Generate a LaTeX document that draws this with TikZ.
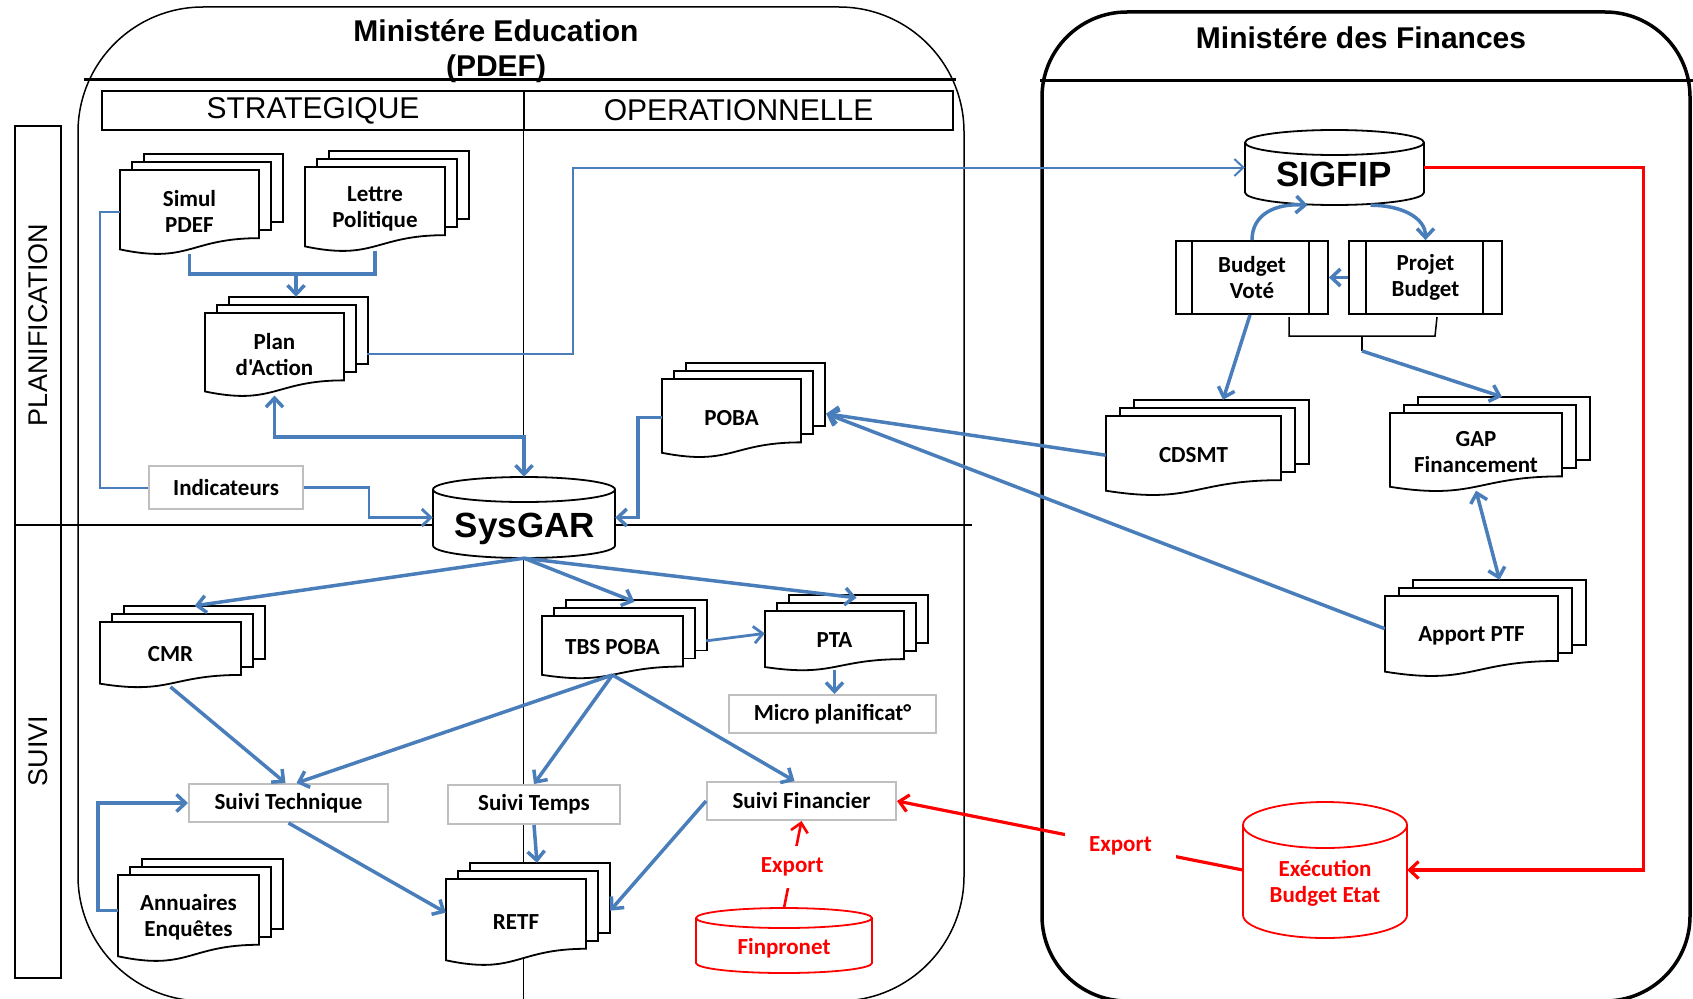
\documentclass[tikz,border=0pt]{standalone}
\usepackage{fontspec}
\setmainfont{Liberation Sans}
\newfontfamily\calfont{Carlito}
\usetikzlibrary{arrows.meta,calc}
\definecolor{ob}{HTML}{4A7EBB}
\definecolor{gb}{HTML}{BFBFBF}
\definecolor{rd}{HTML}{FF0000}

% multi-document stack: [dx]{name}{L}{T}{R}{H}{text}
\newcommand\mdoc[7][12]{%
  \pgfmathsetmacro\rbv{#4+0.802*#6}%
  \pgfmathsetmacro\lbv{#4+0.934*#6}%
  \pgfmathsetmacro\cbv{#4+1.107*#6}%
  \pgfmathsetmacro\mxv{(#3+#5)/2}%
  \draw[docline] ({#3+2*#1},{#4-16}) rectangle ({#5+2*#1},{\rbv-16});
  \draw[docline] ({#3+#1},{#4-8}) rectangle ({#5+#1},{\rbv-8});
  \draw[docline] (#3,#4) -- (#5,#4) -- (#5,\rbv) .. controls (\mxv,\rbv) and (\mxv,\cbv) .. (#3,\lbv) -- cycle;
  \node[lab,minimum width={#5-#3},minimum height={0.98*#6}] (#2) at (\mxv,{#4+0.49*#6}) {#7};
}
% cylinder: {name}{L}{T}{R}{B}{ry}{style}
\newcommand\cyl[7]{%
  \pgfmathsetmacro\rxv{(#4-#2)/2}%
  \pgfmathsetmacro\mxv{(#2+#4)/2}%
  \draw[#7,fill=white] (#2,{#3+#6}) -- (#2,{#5-#6}) arc[start angle=180,end angle=360,x radius=\rxv pt,y radius=#6pt] -- (#4,{#3+#6}) arc[start angle=0,end angle=180,x radius=\rxv pt,y radius=#6pt] -- cycle;
  \draw[#7] (#2,{#3+#6}) arc[start angle=180,end angle=360,x radius=\rxv pt,y radius=#6pt];
  \node[inner sep=0pt,minimum width={#4-#2},minimum height={#5-#3}] (#1) at (\mxv,{(#3+#5)/2}) {};
}

\begin{document}
\begin{tikzpicture}[x=1pt,y=-1pt,
  >={Straight Barb[length=9pt,width=17pt]},
  frame/.style={draw=black,line width=1.5pt},
  docline/.style={draw=black,line width=1.8pt,fill=white},
  lab/.style={font=\calfont\bfseries\fontsize{23}{26}\selectfont,align=center,inner sep=0pt},
  rlab/.style={lab,text=rd},
  gbox/.style={lab,draw=gb,line width=2pt,fill=white},
  pbox/.style={lab,draw=black,line width=1.8pt,fill=white,minimum width=152pt,minimum height=73pt},
  secbox/.style={draw=black,line width=1.5pt,fill=white,minimum height=39pt,inner sep=0pt,font=\fontsize{30}{34}\selectfont},
  title/.style={font=\bfseries\fontsize{30}{35}\selectfont,align=center},
  side/.style={font=\fontsize{27}{30}\selectfont},
  big/.style={font=\bfseries\fontsize{35}{40}\selectfont,inner sep=0pt},
  bl/.style={draw=ob,line width=3.5pt},
  bla/.style={bl,->},
  bt/.style={draw=ob,line width=2pt},
  bta/.style={bt,->},
  rl/.style={draw=rd,line width=3.2pt,->}]
\useasboundingbox (0,0) rectangle (1693,998);
\clip (0,0) rectangle (1693,998);

% ---- frames
\draw[frame,rounded corners=125pt] (78,7) rectangle (964,1001);
\draw[line width=3pt] (84,79) -- (956,79);
\draw[line width=3.5pt,rounded corners=85pt] (1042,12) rectangle (1690,1001);
\draw[line width=3pt] (1040,80) -- (1693,80);
\node[title] (metitle) at (496,51) {Ministére Education\\(PDEF)};
\node[title] (mftitle) at (1361,38) {Ministére des Finances};

% ---- swimlanes
\draw[frame] (15,126) rectangle (61,978);
\draw[frame] (15,525) -- (972,525);
\node[side,rotate=90] (planlab) at (38,325) {PLANIFICATION};
\node[side,rotate=90] (suivilab) at (38,751) {SUIVI};
\node[secbox,minimum width=422pt] (strat) at (313,110.5) {STRATEGIQUE};
\node[secbox,minimum width=429pt] (oper) at (738.5,110.5) {OPERATIONNELLE};
\draw[frame] (oper.north west) -- ++(0,910);

% ---- documents
\mdoc{simul}{120}{170}{259}{85}{Simul\\PDEF}
\mdoc{lettre}{305}{167}{445}{85}{Lettre\\Politique}
\mdoc{plan}{205}{313}{344}{84}{Plan\\d'Action}
\mdoc{poba}{662}{379}{801}{79}{POBA}
\mdoc[14]{cdsmt}{1106}{416}{1281}{80}{CDSMT}
\mdoc[14]{gap}{1390}{413}{1562}{79}{GAP\\Financement}
\mdoc[14]{apport}{1385}{596}{1558}{81}{Apport PTF}
\mdoc{tbs}{542}{616}{683}{63}{TBS POBA}
\mdoc{pta}{765}{611}{904}{60}{PTA}
\mdoc{cmr}{100}{622}{241}{66}{CMR}
\mdoc{retf}{446}{879}{586}{87}{RETF}
\mdoc{annu}{118}{875}{259}{87}{Annuaires\\Enquêtes}

% ---- databases
\cyl{sysgar}{433}{477}{615}{558}{12.5}{draw=black,line width=1.8pt}
\node[big,anchor=base] (sysgartxt) at (525,537) {SysGAR};
\cyl{sigfip}{1245}{130}{1424}{205}{12.5}{draw=black,line width=1.8pt}
\node[big] (sigfiptxt) at (1334,174) {SIGFIP};
\cyl{finpro}{696}{908}{872}{973}{10}{draw=rd,line width=1.8pt}
\node[rlab,anchor=base] (finprotxt) at (784,954) {Finpronet};
\cyl{exec}{1243}{802}{1407}{938}{23}{draw=rd,line width=1.8pt}
\node[rlab] (exectxt) at (1325,883) {Exécution\\Budget Etat};

% ---- boxes
\node[gbox,minimum width=154pt,minimum height=43pt] (indic) at (226,487.5) {Indicateurs};
\node[gbox,minimum width=199pt,minimum height=38pt] (stech) at (288.5,803) {Suivi Technique};
\node[gbox,minimum width=172pt,minimum height=39pt] (stemps) at (534,804.5) {Suivi Temps};
\node[gbox,minimum width=189pt,minimum height=38pt] (sfin) at (801.5,801) {Suivi Financier};
\node[gbox,minimum width=207pt,minimum height=38pt] (micro) at (832.5,714) {Micro planificat°};
\node[pbox] (bvote) at (1252,277.5) {Budget\\Voté};
\node[pbox,minimum width=153pt] (pbud) at (1425.5,277.5) {Projet\\Budget};
\draw[line width=1.8pt] ([xshift=17pt]bvote.north west) -- ([xshift=17pt]bvote.south west);
\draw[line width=1.8pt] ([xshift=-20pt]bvote.north east) -- ([xshift=-20pt]bvote.south east);
\draw[line width=1.8pt] ([xshift=18pt]pbud.north west) -- ([xshift=18pt]pbud.south west);
\draw[line width=1.8pt] ([xshift=-20pt]pbud.north east) -- ([xshift=-20pt]pbud.south east);
% brace under the budget boxes
\draw[line width=1.5pt] (1289,317) -- (1289,336) -- (1435,336) -- (1437,317);
\draw[line width=1.5pt] (1362,336) -- (1362,351);
\coordinate (brace) at (1362,351);

% ---- connectors: planification
\coordinate (j1) at (296,274);
\draw[bl] (simul.south) |- (j1) -| (lettre.south);
\draw[bla] (j1) -- ([xshift=21.5pt,yshift=16pt]plan.north);
\draw[bl,<->] (plan.south) -- ++(0,41.7) -| (sysgar.north);
\draw[bt] (simul.west) -- ++(-20,0) |- (indic.west);
\draw[bl,->,line width=2.8pt] (indic.east) -- ++(65,0) |- (sysgar.west);
\draw[bla] (poba.west) -- ++(-24,0) |- (sysgar.east);
\draw[bta] ([xshift=23pt]plan.east) -- ++(206,0) |- (sigfip.west);

% ---- connectors: suivi
\draw[bla] (sysgar.south) -- ([xshift=24pt,yshift=16pt]cmr.north);
\draw[bla] (sysgar.south) -- ([xshift=22pt,yshift=14pt]tbs.north);
\draw[bla] (sysgar.south) -- ([xshift=22pt,yshift=13pt]pta.north);
\draw[bla,line width=2.8pt] ([xshift=23pt,yshift=6pt]tbs.east) -- ([yshift=7pt]pta.west);
\draw[bla] (pta.south) -- (pta.south |- micro.north);
\draw[bla] ([yshift=3pt]tbs.south) -- ([xshift=8pt]stech.north);
\draw[bla] ([yshift=3pt]tbs.south) -- (stemps.north);
\draw[bla] ([yshift=3pt]tbs.south) -- ([xshift=-7pt]sfin.north);
\draw[bla] (cmr.south) -- ([xshift=-3pt]stech.north);
\draw[bla] ([yshift=7pt]annu.west) -- ++(-20,0) |- (stech.west);
\draw[bla] (stech.south) -- ([yshift=9pt]retf.west);
\draw[bla] (stemps.south) -- ([xshift=21pt,yshift=16pt]retf.north);
\draw[bla] (sfin.west) -- ([xshift=24pt,yshift=11pt]retf.east);

% ---- connectors: finances
\draw[bla] (bvote.north) .. controls +(0,-26) and +(-32,-2) .. ([xshift=-27pt]sigfip.south);
\draw[bla] ([xshift=36pt]sigfip.south) .. controls +(30,0) and +(0,-23) .. (pbud.north);
\draw[bla] (pbud.west) -- (bvote.east);
\draw[bla] ([xshift=-2pt]bvote.south) -- ([xshift=29.5pt,yshift=16pt]cdsmt.north);
\draw[bla] (brace) -- ([xshift=26pt,yshift=16pt]gap.north);
\draw[bl,<->] (gap.south) -- ([xshift=28pt,yshift=16pt]apport.north);
\draw[bla] (cdsmt.west) -- ([xshift=25pt,yshift=4pt]poba.east);
\draw[bla] ([yshift=7pt]apport.west) -- ([xshift=25pt,yshift=4pt]poba.east);

% ---- red flows
\draw[rl] (sigfip.east) -- ++(219,0) |- (exec.east);
\draw[rl] (exec.west) -- node[pos=0.354,rlab,fill=white,inner xsep=24pt,inner ysep=4pt] (exp1) {Export} (sfin.east);
\draw[rl,line width=2.6pt] (finpro.north) -- node[pos=0.47,rlab,fill=white,inner xsep=2pt,inner ysep=12pt] (exp2) {Export} (sfin.south);
\end{tikzpicture}
\end{document}
